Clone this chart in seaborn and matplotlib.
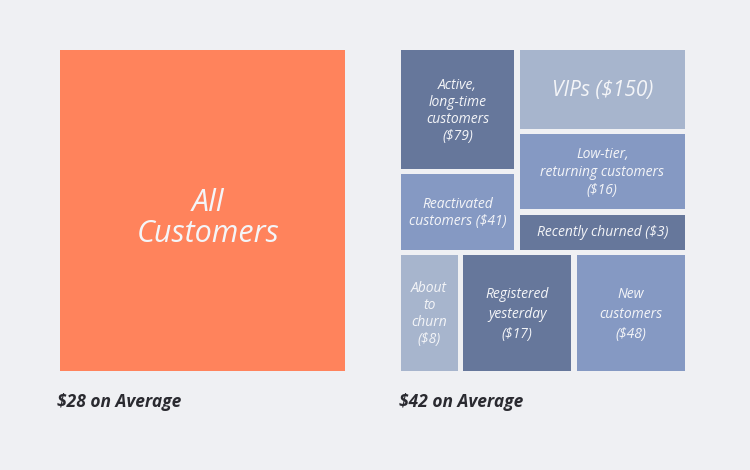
import matplotlib.pyplot as plt
import seaborn as sns

# ---------------------------------------------------------------------------
# Data
# ---------------------------------------------------------------------------
all_label = "All\nCustomers"
all_average = 28
segment_average = 42

segments = [
    "Active,\nlong-time\ncustomers",
    "VIPs",
    "Low-tier,\nreturning customers",
    "Reactivated\ncustomers",
    "Recently churned",
    "About\nto\nchurn",
    "Registered\nyesterday",
    "New\ncustomers",
]
values = [79, 150, 16, 41, 3, 8, 17, 48]
shades = ["dark", "light", "mid", "mid", "dark", "light", "dark", "mid"]

# ---------------------------------------------------------------------------
# Style / layout
# ---------------------------------------------------------------------------
BG = "#EFF0F3"
ORANGE = "#FF835C"
SHADE_COLORS = {"dark": "#66779B", "mid": "#8599C3", "light": "#A7B5CD"}
TEXT_DARK = "#2A2A30"
TEXT_LIGHT = "#F4F5F8"

# tile grid: 5 rows x 4 cols, spans per segment (rows, cols)
TILE_SPANS = [
    (slice(0, 2), slice(0, 2)),
    (slice(0, 1), slice(2, 4)),
    (slice(1, 3), slice(2, 4)),
    (slice(2, 4), slice(0, 2)),
    (slice(3, 4), slice(2, 4)),
    (slice(4, 5), slice(0, 1)),
    (slice(4, 5), slice(1, 3)),
    (slice(4, 5), slice(3, 4)),
]
INLINE_VALUE = [False, True, False, True, True, False, False, False]
LINE_SPACING = [1.2, 1.2, 1.25, 1.25, 1.2, 1.2, 1.45, 1.45]
FONT_SIZE = [10, 15, 10, 10, 10, 10, 10, 10]

W, H = 750, 470

sns.set_theme(style="white", rc={"figure.facecolor": BG, "savefig.facecolor": BG})
plt.rcParams["font.family"] = ["Open Sans", "DejaVu Sans"]

fig = plt.figure(figsize=(7.5, 4.7), dpi=100)

# left: all customers
ax_all = fig.add_axes([60 / W, 1 - 371 / H, 285 / W, 321 / H])
ax_all.set_facecolor(ORANGE)
ax_all.set_xticks([])
ax_all.set_yticks([])
sns.despine(ax=ax_all, left=True, bottom=True)
ax_all.text(0.52, 0.475, all_label, transform=ax_all.transAxes, ha="center", va="center",
            fontsize=22, style="italic", color=TEXT_LIGHT, linespacing=1.05)

# right: segments
gs = fig.add_gridspec(
    5, 4,
    left=401 / W, right=685 / W, top=1 - 50 / H, bottom=1 - 371 / H,
    width_ratios=[56.7, 51, 51.7, 108.3],
    height_ratios=[79.3, 35, 35, 35.4, 116],
    wspace=0.082, hspace=0.085,
)
for name, val, shade, span, inline, ls, fs in zip(
        segments, values, shades, TILE_SPANS, INLINE_VALUE, LINE_SPACING, FONT_SIZE):
    ax = fig.add_subplot(gs[span[0], span[1]])
    ax.set_facecolor(SHADE_COLORS[shade])
    ax.set_xticks([])
    ax.set_yticks([])
    sns.despine(ax=ax, left=True, bottom=True)
    label = f"{name}{' ' if inline else chr(10)}(${val})"
    ax.text(0.5, 0.49, label, transform=ax.transAxes, ha="center", va="center",
            fontsize=fs, style="italic", color=TEXT_LIGHT, linespacing=ls)

# averages underneath
fig.text(57 / W, 1 - 402 / H, f"${all_average} on Average", ha="left", va="center",
         fontsize=12.5, style="italic", weight="bold", color=TEXT_DARK)
fig.text(399 / W, 1 - 402 / H, f"${segment_average} on Average", ha="left", va="center",
         fontsize=12.5, style="italic", weight="bold", color=TEXT_DARK)

fig.savefig("out.png", dpi=100)
